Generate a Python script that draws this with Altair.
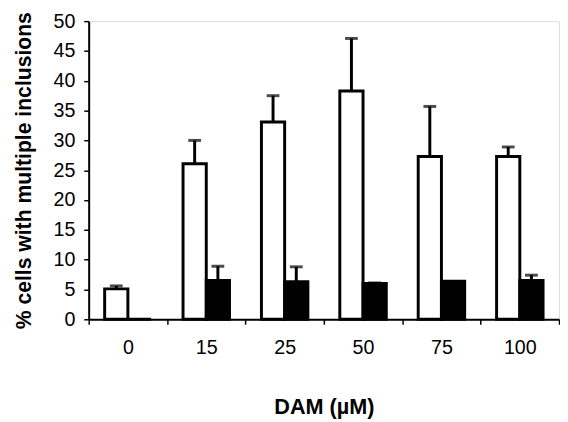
import altair as alt
import pandas as pd

conc = ["0", "15", "25", "50", "75", "100"]
series = ["open", "filled"]
open_mean = [5.1, 26.1, 33.1, 38.3, 27.3, 27.3]
open_err = [0.5, 3.9, 4.4, 8.8, 8.4, 1.6]
filled_mean = [0.0, 6.5, 6.3, 6.0, 6.4, 6.5]
filled_err = [0.0, 2.4, 2.5, 0.1, 0.0, 0.9]

rows = []
for i, c in enumerate(conc):
    rows.append({"conc": c, "series": series[0], "mean": open_mean[i], "err": open_err[i],
                 "top": open_mean[i] + open_err[i]})
    rows.append({"conc": c, "series": series[1], "mean": filled_mean[i], "err": filled_err[i],
                 "top": filled_mean[i] + filled_err[i]})
df = pd.DataFrame(rows)

x_axis = alt.Axis(title="DAM (µM)", labelAngle=0, tickBand="extent",
                  labelFont="Liberation Sans", labelFontSize=20, labelColor="black",
                  labelPadding=14, tickSize=5, tickColor="black", tickWidth=1.5,
                  domainColor="black", domainWidth=2,
                  titleFont="Liberation Sans", titleFontSize=22, titleFontWeight="bold",
                  titleColor="black", titlePadding=40)
y_axis = alt.Axis(title="% cells with multiple inclusions", values=list(range(0, 51, 5)),
                  labelOverlap=False, grid=False, labelFont="Liberation Sans",
                  labelFontSize=20, labelColor="black", labelPadding=9, tickSize=5,
                  tickColor="black", tickWidth=1.5, domainColor="black", domainWidth=2,
                  titleFont="Liberation Sans", titleFontSize=21.5, titleFontWeight="bold",
                  titleColor="black", titlePadding=18)
x_scale = alt.Scale(paddingInner=0, paddingOuter=0)
xo_scale = alt.Scale(paddingOuter=0.6875, paddingInner=0)
y_scale = alt.Scale(domain=[0, 50], nice=False)

def xe():
    return alt.X("conc:N", sort=conc, scale=x_scale, axis=x_axis)

def xoe():
    return alt.XOffset("series:N", sort=series, scale=xo_scale)

bars = alt.Chart(df).mark_bar(stroke="black", strokeWidth=3).encode(
    x=xe(),
    xOffset=xoe(),
    y=alt.Y("mean:Q", scale=y_scale, axis=y_axis),
    fill=alt.Fill("series:N", scale=alt.Scale(domain=series, range=["white", "black"]), legend=None),
)

err_df = df[df["err"] > 0.05]
rules = alt.Chart(err_df).mark_rule(color="black", strokeWidth=3).encode(
    x=xe(),
    xOffset=xoe(),
    y=alt.Y("mean:Q", scale=y_scale, axis=y_axis),
    y2="top:Q",
)
caps = alt.Chart(err_df).mark_tick(color="black", thickness=3, size=13).encode(
    x=xe(),
    xOffset=xoe(),
    y=alt.Y("top:Q", scale=y_scale, axis=y_axis),
)

chart = alt.layer(rules, bars, caps).properties(
    width=478, height=303,
    padding={"left": 5, "top": 0, "right": 0, "bottom": 0},
).configure_view(stroke="#888888", strokeWidth=2).configure(background="white")

chart.save("out.html", embed_options={"renderer": "svg", "actions": False})
